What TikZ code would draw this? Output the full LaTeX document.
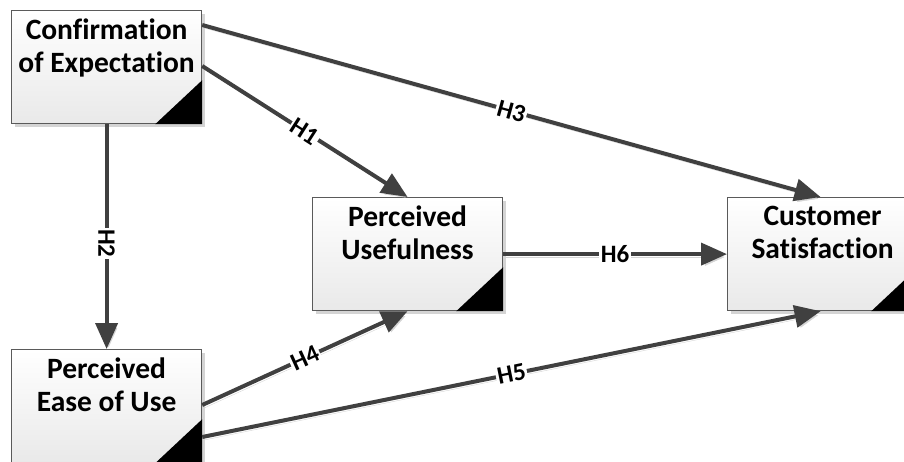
\documentclass[tikz,border=0pt]{standalone}
\usepackage{fontspec}
\setmainfont[Ligatures=NoCommon]{Carlito}
\usetikzlibrary{arrows.meta,calc,shadows}
\definecolor{arrowc}{HTML}{404040}
\definecolor{boxborder}{HTML}{5A5A5A}
\definecolor{boxbot}{HTML}{E9E9E9}
\definecolor{shadowc}{HTML}{D4D4D4}
\begin{document}
\begin{tikzpicture}[x=1pt,y=-1pt,
  box/.style={draw=boxborder, line width=1.2pt, top color=white, bottom color=boxbot,
    minimum width=190pt, minimum height=113pt, anchor=north west, inner sep=0pt,
    drop shadow={shadow xshift=3pt, shadow yshift=-3pt, fill=shadowc, opacity=1}},
  boxtext/.style={anchor=north, align=center, inner sep=0pt, font=\bfseries\fontsize{29.5}{33}\selectfont},
  corner/.style={fill=black},
  link/.style={draw=arrowc, line width=4pt, -{Triangle[length=26pt,width=22pt]},
    preaction={draw=shadowc, transform canvas={shift={(2pt,-3pt)}}}},
  hlabel/.style={fill=white, inner sep=1.5pt, font=\bfseries\fontsize{25}{27}\selectfont},
]
\useasboundingbox (0,0) rectangle (904,461);
\clip (0,0) rectangle (904,461);

% boxes
\node[box] (ce) at (11,10) {};
\node[box] (pu) at (312,197) {};
\node[box] (cs) at (727,197) {};
\node[box] (pe) at (11,349) {};

\foreach \b in {ce,pu,cs,pe}{
  \fill[corner] (\b.south east) -- ++(-47,0) -- ++(47,-44) -- cycle;
}

\node[boxtext] (ceT) at ($(ce.north)+(0,9)$) {Confirmation\\of Expectation};
\node[boxtext] (puT) at ($(pu.north)+(0,9)$) {Perceived\\Usefulness};
\node[boxtext] (csT) at ($(cs.north)+(0,9)$) {Customer\\Satisfaction};
\node[boxtext] (peT) at ($(pe.north)+(0,9)$) {Perceived\\Ease of Use};

% connectors
\coordinate (ceA) at ($(ce.north east)+(0,15)$);
\coordinate (ceB) at ($(ce.north east)+(0,56)$);
\coordinate (peA) at ($(pe.north east)+(0,56)$);
\coordinate (peB) at ($(pe.north east)+(0,88)$);

\draw[link] (ceA) -- node[hlabel, sloped, pos=0.5] (h3) {H3} ($(cs.north)+(-2,0)$);
\draw[link] (ceB) -- node[hlabel, sloped, pos=0.5] (h1) {H1} (pu.north);
\draw[link] (ce.south) -- node[hlabel, rotate=-90, pos=0.53] (h2) {H2} (pe.north);
\draw[link] (peA) -- node[hlabel, sloped, pos=0.5] (h4) {H4} (pu.south);
\draw[link] (peB) -- node[hlabel, sloped, pos=0.5] (h5) {H5} ($(cs.south)+(-2,0)$);
\draw[link] (pu.east) -- node[hlabel, pos=0.5] (h6) {H6} (cs.west);
\end{tikzpicture}
\end{document}
